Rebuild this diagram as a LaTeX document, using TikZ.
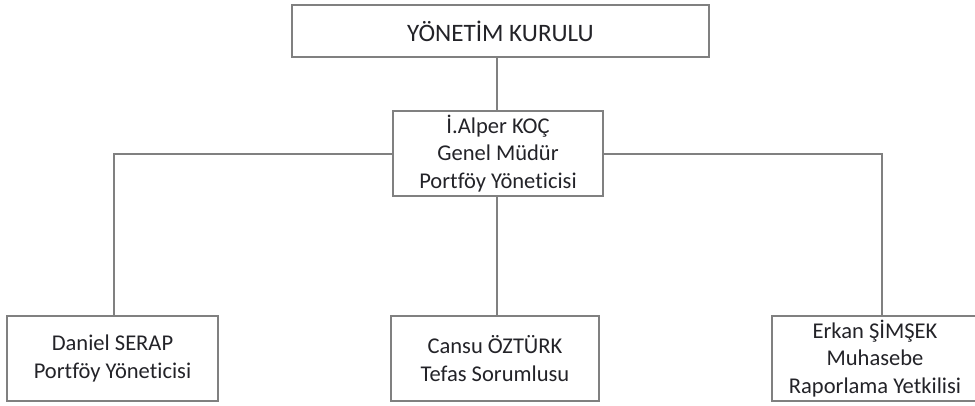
\documentclass[tikz,border=0pt]{standalone}
\usepackage{fontspec}
\setmainfont{Carlito}[Ligatures=NoCommon]
\def\px{0.75pt}
\tikzset{
  orgbox/.style={draw=linegray, line width=1.5pt, fill=white, inner sep=0pt, align=center,
    font=\fontsize{16.9pt}{20.6pt}\selectfont, text=textdark},
  conn/.style={draw=linegray, line width=1.5pt},
}
\definecolor{linegray}{RGB}{128,128,128}
\definecolor{textdark}{RGB}{35,35,40}
\begin{document}
\begin{tikzpicture}[x=0.75pt,y=-0.75pt]
\path[use as bounding box] (0,0) rectangle (975,405);
\clip (0,0) rectangle (975,405);
\node[orgbox, minimum width=417*\px, minimum height=52*\px, font=\fontsize{18.8pt}{22pt}\selectfont] (top) at (500.5,31) {YÖNETİM KURULU};
\node[orgbox, minimum width=210*\px, minimum height=85*\px] (mid) at (498,153.5) {İ.Alper KOÇ\\Genel Müdür\\Portföy Yöneticisi};
\node[orgbox, minimum width=211*\px, minimum height=85*\px] (bl) at (112.5,358.5) {Daniel SERAP\\Portföy Yöneticisi};
\node[orgbox, minimum width=208*\px, minimum height=85*\px] (bm) at (495,358.5) {Cansu ÖZTÜRK\\Tefas Sorumlusu};
\node[orgbox, minimum width=206*\px, minimum height=85*\px] (br) at (875,358.5) {Erkan ŞİMŞEK\\Muhasebe\\Raporlama Yetkilisi};
\draw[conn] (mid.north -| 497,0) -- (top.south -| 497,0);
\draw[conn] (mid.west) -| (bl.north -| 114,0);
\draw[conn] (mid.east) -| (br.north -| 882,0);
\draw[conn] (mid.south -| 497,0) -- (bm.north -| 497,0);
\end{tikzpicture}
\end{document}
